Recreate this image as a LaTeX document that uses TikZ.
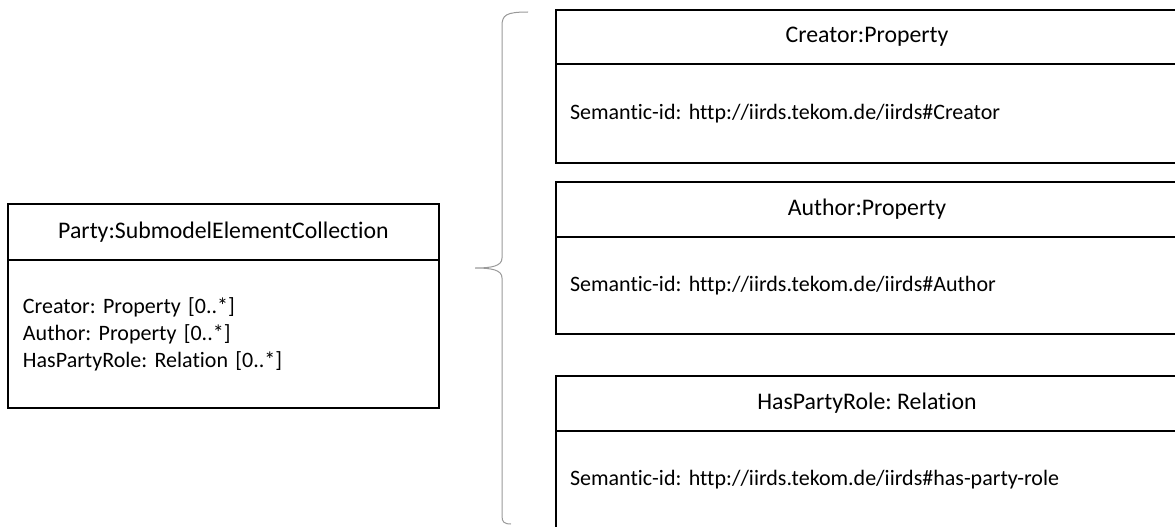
\documentclass[tikz,border=0pt]{standalone}
\usepackage{fontspec}
\setmainfont{Carlito}[Ligatures=NoCommon]
\usetikzlibrary{positioning}

\tikzset{
    umlbox/.style={draw, line width=1.4pt, inner sep=0pt, outer sep=0pt, anchor=north west},
    titlefont/.style={font=\fontsize{23.8}{28}\selectfont\frenchspacing},
    headbox/.style={umlbox, titlefont, minimum height=#1, minimum width=622pt},
    bodybox/.style={umlbox, minimum height=#1, align=left, inner xsep=14pt, text width=594pt},
}

\begin{document}
\begin{tikzpicture}[x=1pt, y=-1pt, font=\fontsize{22}{27}\selectfont\frenchspacing]

    \useasboundingbox (0, 0) rectangle (1175, 527);
    \clip (0, 0) rectangle (1175, 527);

    % Party box
    \node [umlbox, titlefont, minimum height=56pt, minimum width=431pt] (partyhead) at (8, 204) {Party:SubmodelElementCollection};
    \node [umlbox, minimum height=148pt, align=left, inner xsep=15pt, text width=401pt,
           below=0pt of partyhead.south west, anchor=north west] (partybody)
        {Creator: Property [0..*]\\Author: Property [0..*]\\HasPartyRole: Relation [0..*]};

    % Brace
    \coordinate (bracetop) at (528, 12);
    \coordinate (bracetip) at (475, 268);
    \coordinate (bracebot) at (511, 524);
    \draw [gray!80, line width=1pt]
        (bracetop) .. controls (506, 12) and (502, 15) .. (502, 26)
        -- (502, 258) .. controls (502, 266) and (492, 268) .. (bracetip)
        .. controls (492, 268) and (502, 270) .. (502, 278)
        -- (502, 516) .. controls (502, 522) and (504, 524) .. (bracebot);

    % Creator box
    \node [headbox=54pt] (creatorhead) at (556, 10) {Creator:Property};
    \node [bodybox=99pt, below=0pt of creatorhead.south west, anchor=north west] (creatorbody)
        {Semantic-id: http://iirds.tekom.de/iirds\#Creator};

    % Author box
    \node [headbox=55pt] (authorhead) at (556, 182) {Author:Property};
    \node [bodybox=97pt, below=0pt of authorhead.south west, anchor=north west] (authorbody)
        {Semantic-id: http://iirds.tekom.de/iirds\#Author};

    % Relation box
    \node [headbox=55pt] (rolehead) at (556, 376) {HasPartyRole: Relation};
    \node [bodybox=98pt, below=0pt of rolehead.south west, anchor=north west] (rolebody)
        {Semantic-id: http://iirds.tekom.de/iirds\#has-party-role};

\end{tikzpicture}
\end{document}
